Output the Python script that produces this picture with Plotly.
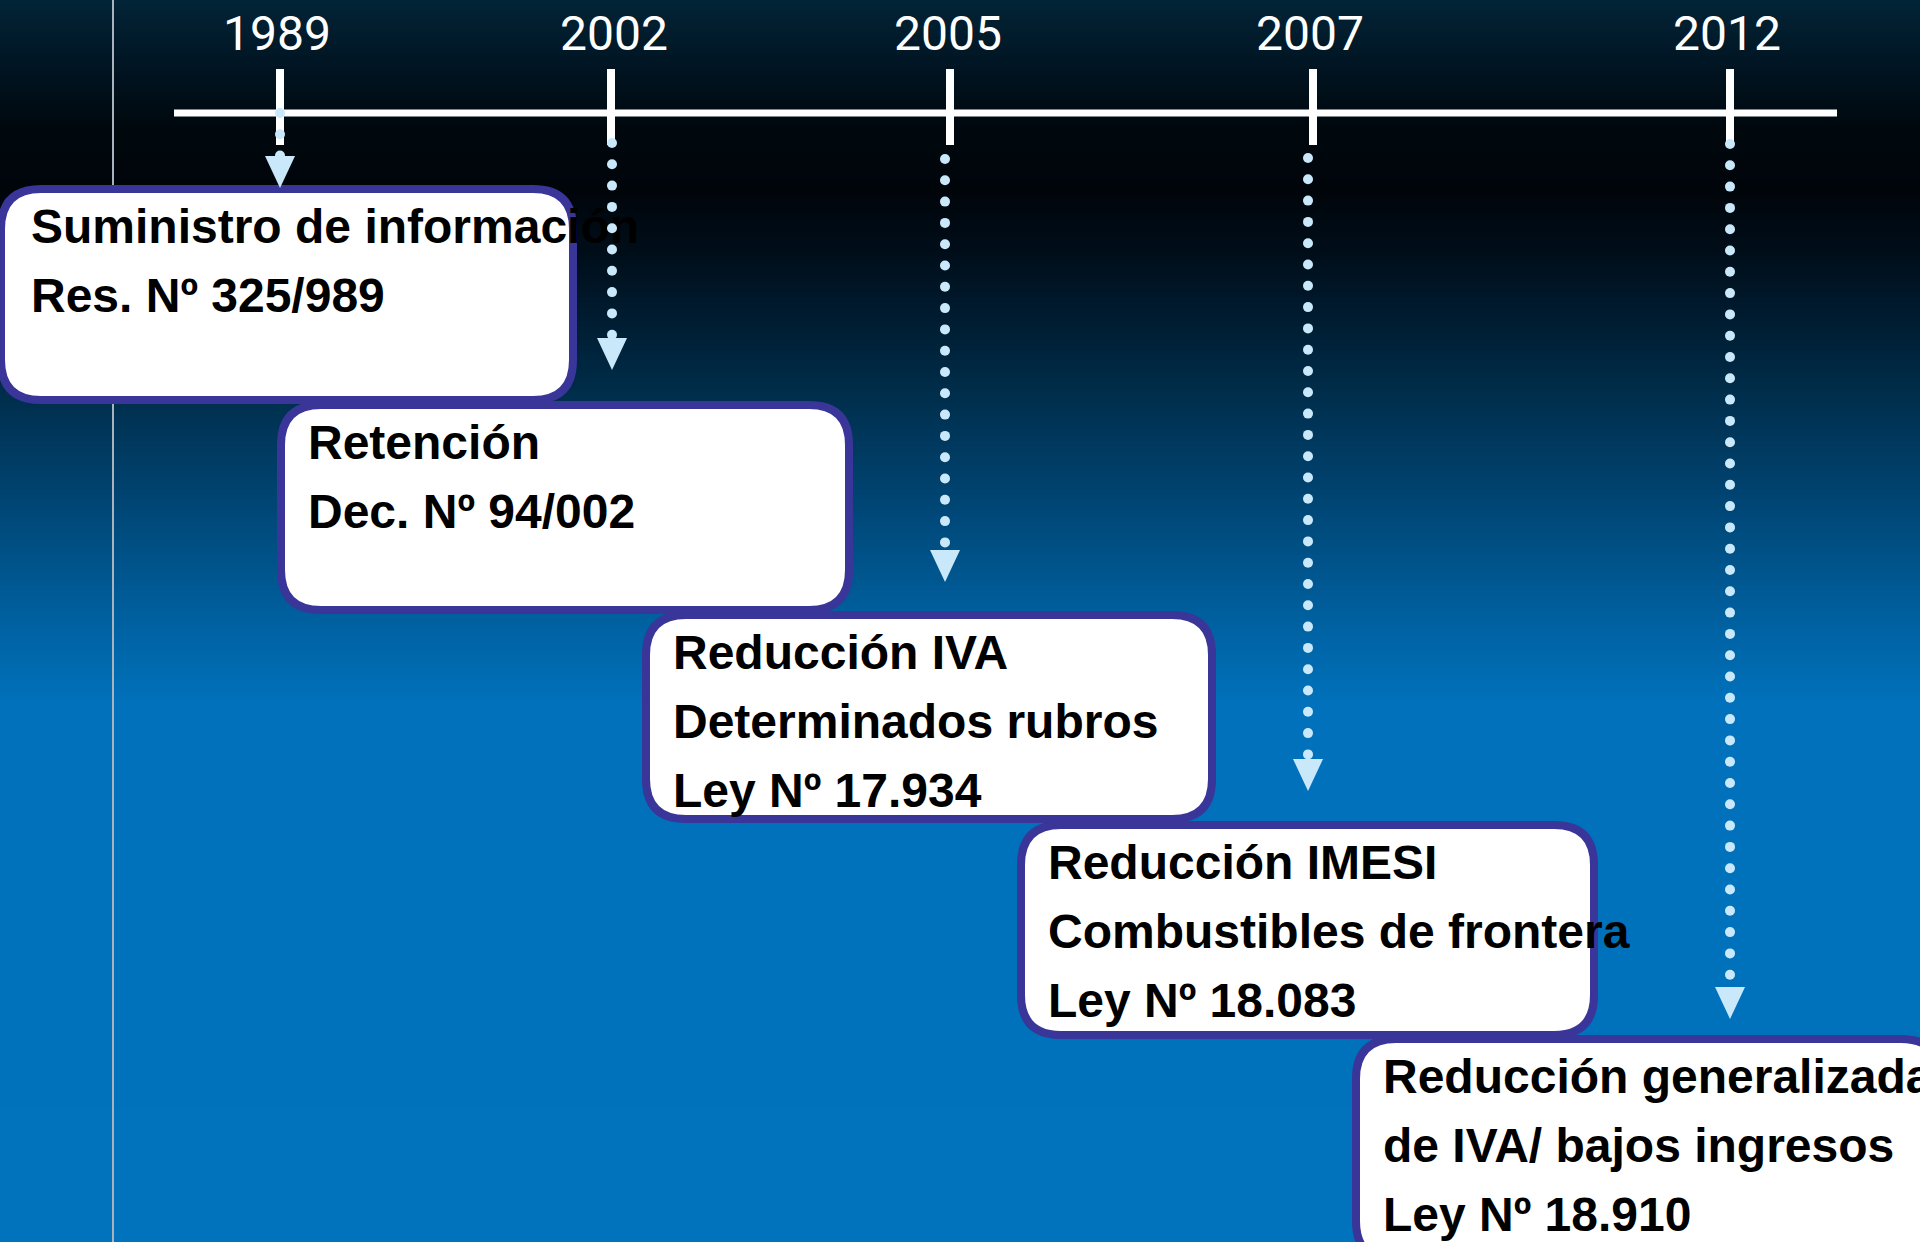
import plotly.graph_objects as go
import numpy as np

# ---------------- content ----------------
years = ["1989", "2002", "2005", "2007", "2012"]
event_lines = [
    ["Suministro de información", "Res. Nº 325/989"],
    ["Retención", "Dec. Nº 94/002"],
    ["Reducción IVA", "Determinados rubros", "Ley Nº 17.934"],
    ["Reducción IMESI", "Combustibles de frontera", "Ley Nº 18.083"],
    ["Reducción generalizada", "de IVA/ bajos ingresos", "Ley Nº 18.910"],
]

# ---------------- layout (pixel space) ----------------
W, H = 1920, 1242
tick_x = [280, 611, 950, 1313, 1730]
label_x = [277, 614, 948, 1310, 1727]
arrow_x = [280, 612, 945, 1308, 1730]
arrow_y0 = [113, 143, 159, 158, 144]
arrow_tip = [188, 370, 582, 791, 1019]
box_x = [(-3, 577), (277, 853), (642, 1216), (1017, 1598), (1352, 1945)]
box_y = [(185, 404), (401, 614), (611, 823), (821, 1039), (1035, 1265)]

grad_stops = [
    (0, "#022437"), (64, "#011523"), (128, "#00080e"), (191, "#00050a"),
    (255, "#000e1a"), (319, "#001c31"), (383, "#002b47"), (446, "#00395f"),
    (510, "#004777"), (574, "#00568e"), (638, "#0064a6"), (702, "#0071ba"),
    (1242, "#0073bc"),
]

DOT_COLOR = "#c9e9fb"
BORDER = "#3a3598"


def hex2rgb(h):
    h = h.lstrip("#")
    return tuple(int(h[i:i + 2], 16) for i in (0, 2, 4))


def grad_color(y):
    for (ya, ca), (yb, cb) in zip(grad_stops[:-1], grad_stops[1:]):
        if ya <= y <= yb:
            t = (y - ya) / (yb - ya) if yb > ya else 0
            a, b = hex2rgb(ca), hex2rgb(cb)
            return "rgb(%d,%d,%d)" % tuple(round(a[i] + (b[i] - a[i]) * t) for i in range(3))
    return grad_stops[-1][1]


shapes = []
# background gradient bands
band = 3
for y in range(0, H, band):
    shapes.append(dict(type="rect", xref="x", yref="y", x0=0, x1=W, y0=y, y1=y + band + 0.5,
                       fillcolor=grad_color(y + band / 2), line=dict(width=0), layer="below"))

# thin vertical guide line
shapes.append(dict(type="line", xref="x", yref="y", x0=113, x1=113, y0=0, y1=H,
                   line=dict(color="#a9b3bd", width=2), layer="below"))


def rounded(x0, y0, x1, y1, r):
    return (f"M {x0+r},{y0} L {x1-r},{y0} Q {x1},{y0} {x1},{y0+r} "
            f"L {x1},{y1-r} Q {x1},{y1} {x1-r},{y1} L {x0+r},{y1} "
            f"Q {x0},{y1} {x0},{y1-r} L {x0},{y0+r} Q {x0},{y0} {x0+r},{y0} Z")


bw = 8
for (x0, x1), (y0, y1) in zip(box_x, box_y):
    shapes.append(dict(type="path", xref="x", yref="y",
                       path=rounded(x0 + bw / 2, y0 + bw / 2, x1 - bw / 2, y1 - bw / 2, 40),
                       fillcolor="white", line=dict(color=BORDER, width=bw), layer="below"))

fig = go.Figure()

# timeline axis line
fig.add_trace(go.Scatter(x=[174, 1837], y=[113, 113], mode="lines",
                         line=dict(color="white", width=7), hoverinfo="skip"))
# ticks
for tx in tick_x:
    fig.add_trace(go.Scatter(x=[tx, tx], y=[69, 145], mode="lines",
                             line=dict(color="white", width=8), hoverinfo="skip"))
# year labels
fig.add_trace(go.Scatter(x=label_x, y=[38] * len(years), mode="text", text=years,
                         textposition="middle center",
                         textfont=dict(family="Roboto, Open Sans, sans-serif", size=48, color="white"),
                         hoverinfo="skip"))

# box texts
for (x0, _), (y0, _), lines in zip(box_x, box_y, event_lines):
    lx = max(x0, 0) + 31
    ys = [y0 + 46 + 69 * i for i in range(len(lines))]
    fig.add_trace(go.Scatter(x=[lx] * len(lines), y=ys, mode="text", text=lines,
                             textposition="middle right",
                             textfont=dict(family="Liberation Sans, Arial, sans-serif", size=48,
                                           color="black", weight="bold"),
                             hoverinfo="skip"))

# dotted arrows
head_h, head_w = 32, 15
for ax, ay0, tip in zip(arrow_x, arrow_y0, arrow_tip):
    dots_y = np.arange(ay0, tip - head_h + 2, 21.3)
    fig.add_trace(go.Scatter(x=[ax] * len(dots_y), y=dots_y, mode="markers",
                             marker=dict(symbol="circle", size=10, color=DOT_COLOR, line=dict(width=0)),
                             hoverinfo="skip"))
    fig.add_trace(go.Scatter(x=[ax - head_w, ax + head_w, ax, ax - head_w],
                             y=[tip - head_h, tip - head_h, tip, tip - head_h],
                             mode="lines", fill="toself", fillcolor=DOT_COLOR,
                             line=dict(color=DOT_COLOR, width=0), hoverinfo="skip"))

fig.update_layout(
    width=W, height=H,
    margin=dict(l=0, r=0, t=0, b=0),
    paper_bgcolor="#0073bc", plot_bgcolor="#0073bc",
    showlegend=False,
    shapes=shapes,
    xaxis=dict(range=[0, W], visible=False, fixedrange=True),
    yaxis=dict(range=[H, 0], visible=False, fixedrange=True),
)

fig.write_html("out.html", config={"displayModeBar": False},
               post_script="document.body.style.margin='0';document.body.style.overflow='hidden';")
